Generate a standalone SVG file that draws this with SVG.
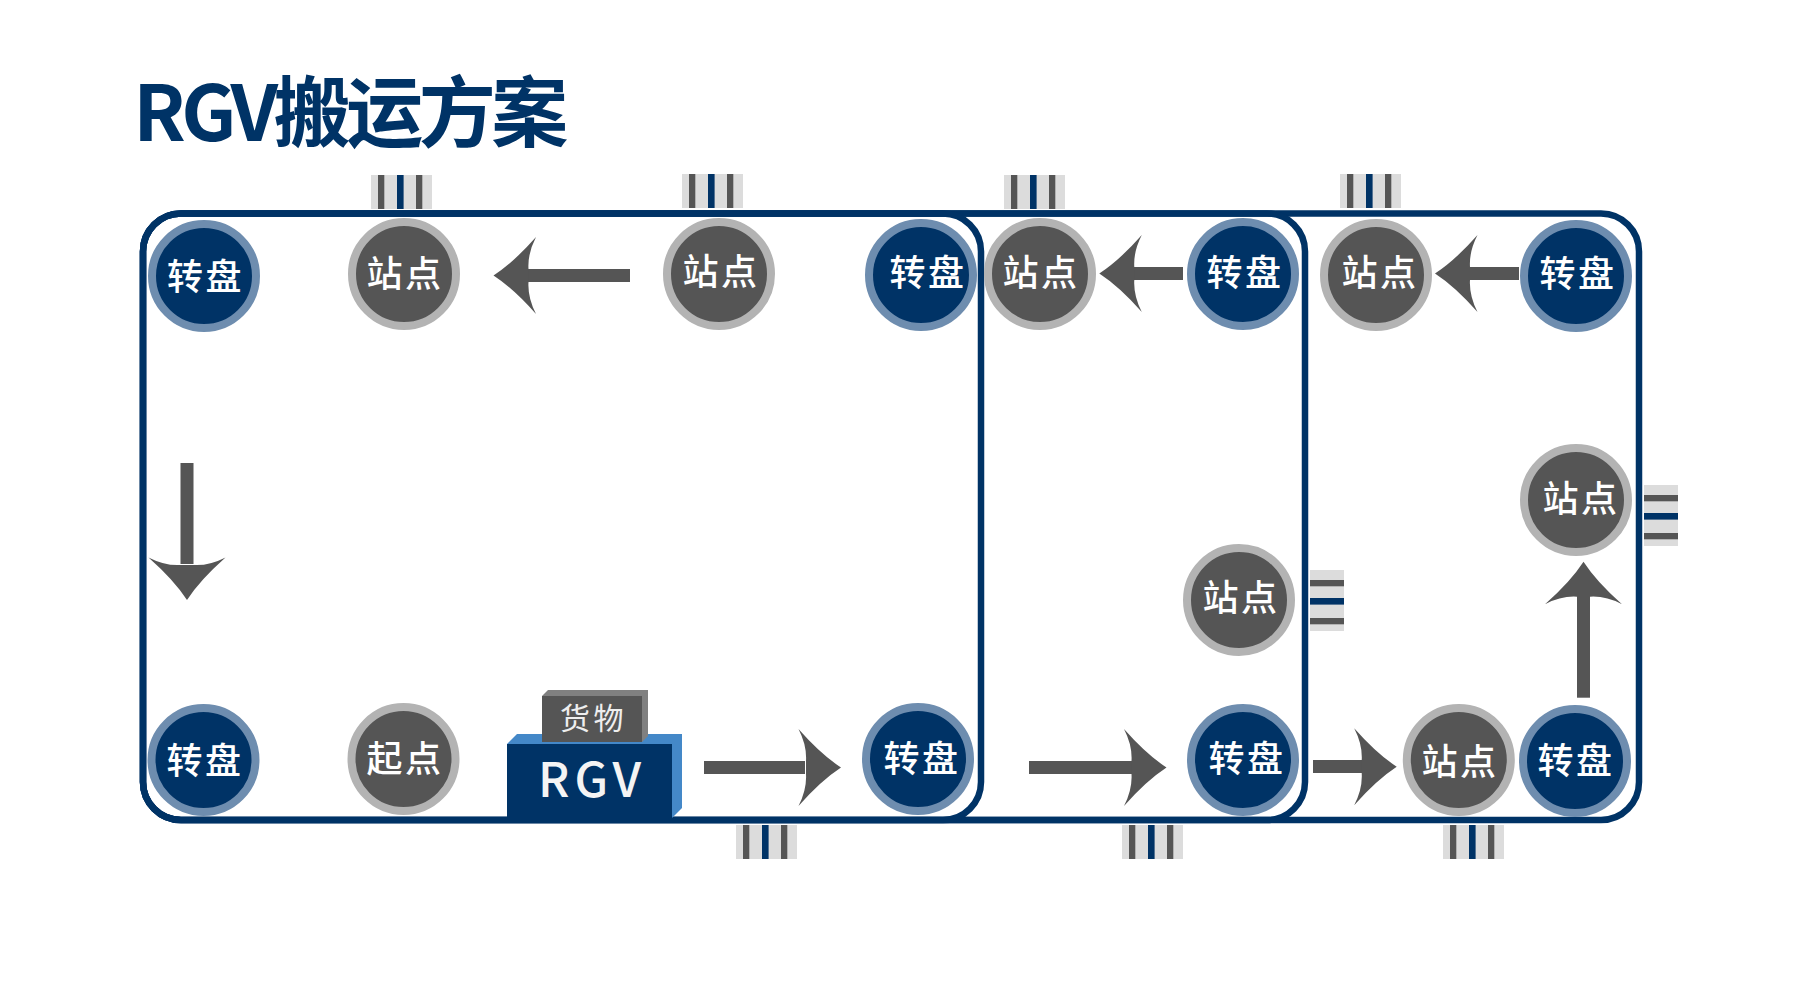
<svg xmlns="http://www.w3.org/2000/svg" width="1800" height="1000" viewBox="0 0 1800 1000">
<style>
text{font-family:"Noto Sans CJK SC","Noto Sans",sans-serif;text-anchor:middle}
.frame{fill:none;stroke:#003366;stroke-width:6.500}
.turn{fill:#003366;stroke:#6e8daf;stroke-width:8}
.stop{fill:#555;stroke:#b3b3b3;stroke-width:8}
.nt{fill:#fff;font-size:36px;font-weight:500;letter-spacing:2.500px}
.bg{fill:#dcdcdc}.g{fill:#555}.b{fill:#003366}
</style>
<defs>
<path id="head" d="M0 0Q-20 13-42.500 38.500Q-34 22-35 6.500V-6.500Q-34 -22-42.500 -38.500Q-20 -13 0 0Z" fill="#555"/>
<g id="tickV"><rect class="bg" width="61" height="34"/><rect class="g" x="7" width="6.300" height="34"/><rect class="b" x="26" width="6.600" height="34"/><rect class="g" x="45" width="6.300" height="34"/></g>
<g id="tickH"><rect class="bg" width="34" height="61"/><rect class="g" y="10" width="34" height="6.300"/><rect class="b" y="28" width="34" height="6.600"/><rect class="g" y="48" width="34" height="6.300"/></g>
</defs>
<rect width="1800" height="1000" fill="#fff"/>
<text id="title" x="348.500" y="140.500" style="font-size:77px;font-weight:700;letter-spacing:-4.500px" fill="#003366">RGV搬运方案</text>
<g id="tracks">
<rect class="frame" x="143" y="213.500" width="1496" height="606.500" rx="38"/>
<rect class="frame" x="143" y="213.500" width="1162" height="606.500" rx="38"/>
<rect class="frame" x="143" y="213.500" width="838" height="606.500" rx="38"/>
</g>
<g id="ticks">
<use href="#tickV" x="371" y="175"/><use href="#tickV" x="682" y="174"/><use href="#tickV" x="1004" y="175"/><use href="#tickV" x="1340" y="174"/>
<use href="#tickV" x="736" y="825"/><use href="#tickV" x="1122" y="825"/><use href="#tickV" x="1443" y="825"/>
<use href="#tickH" x="1310" y="570"/><use href="#tickH" x="1644" y="485"/>
</g>
<g id="connectors">
<rect class="g" x="528" y="269" width="102" height="13"/><use href="#head" transform="translate(493.500 275.500) rotate(180)"/>
<rect class="g" x="1134" y="267" width="49" height="13"/><use href="#head" transform="translate(1099.300 273.500) rotate(180)"/>
<rect class="g" x="1470" y="267" width="49" height="13"/><use href="#head" transform="translate(1435 273.500) rotate(180)"/>
<rect class="g" x="180.500" y="463" width="13" height="101"/><use href="#head" transform="translate(187 600) rotate(90)"/>
<rect class="g" x="704" y="761" width="101" height="13"/><use href="#head" transform="translate(841 767.500)"/>
<rect class="g" x="1029" y="761" width="103" height="13"/><use href="#head" transform="translate(1166.500 767.500)"/>
<rect class="g" x="1313" y="760" width="49" height="13"/><use href="#head" transform="translate(1396.700 766.700)"/>
<rect class="g" x="1577" y="596" width="13" height="101.700"/><use href="#head" transform="translate(1583.500 561.700) rotate(-90)"/>
</g>
<g id="n1"><circle class="turn" cx="204" cy="276" r="52"/><text class="nt" x="205.500" y="289.500">转盘</text></g>
<g id="n2"><circle class="stop" cx="404" cy="274" r="52"/><text class="nt" x="405" y="287">站点</text></g>
<g id="n3"><circle class="stop" cx="719" cy="274" r="52"/><text class="nt" x="721" y="285">站点</text></g>
<g id="n4"><circle class="turn" cx="921" cy="275" r="52"/><text class="nt" x="928" y="286">转盘</text></g>
<g id="n5"><circle class="stop" cx="1040" cy="274" r="52"/><text class="nt" x="1041" y="286">站点</text></g>
<g id="n6"><circle class="turn" cx="1243" cy="274" r="52"/><text class="nt" x="1245" y="286">转盘</text></g>
<g id="n7"><circle class="stop" cx="1376" cy="275" r="52"/><text class="nt" x="1380" y="286">站点</text></g>
<g id="n8"><circle class="turn" cx="1576" cy="276" r="52"/><text class="nt" x="1578" y="287">转盘</text></g>
<g id="n9"><circle class="stop" cx="1576" cy="500" r="52"/><text class="nt" x="1581" y="512">站点</text></g>
<g id="n10"><circle class="stop" cx="1239" cy="600" r="52"/><text class="nt" x="1241" y="611">站点</text></g>
<g id="n11"><circle class="turn" cx="203.500" cy="760" r="52"/><text class="nt" x="205" y="774">转盘</text></g>
<g id="n12"><circle class="stop" cx="403.500" cy="759" r="52"/><text class="nt" x="405" y="772">起点</text></g>
<g id="n13"><circle class="turn" cx="918" cy="759" r="52"/><text class="nt" x="922" y="772">转盘</text></g>
<g id="n14"><circle class="turn" cx="1243" cy="760" r="52"/><text class="nt" x="1247" y="772">转盘</text></g>
<g id="n15"><circle class="stop" cx="1458.800" cy="760" r="52"/><text class="nt" x="1460" y="775">站点</text></g>
<g id="n16"><circle class="turn" cx="1575" cy="761" r="52"/><text class="nt" x="1576" y="774">转盘</text></g>
<g id="rgv">
<path d="M507 744L517 734H682V808L672 818Z" fill="#4488c8"/>
<rect x="507" y="744" width="165" height="74" fill="#003366"/>
<text x="592" y="797" style="font-size:48px;font-weight:500;letter-spacing:5px" fill="#f4f4f4">RGV</text>
</g>
<g id="cargo">
<path d="M542 696L548 690H648V736L642 742Z" fill="#808080"/>
<rect x="542" y="696" width="100" height="46" fill="#555"/>
<text x="593.500" y="729" style="font-size:30px;letter-spacing:3.500px" fill="#eee">货物</text>
</g>
</svg>
